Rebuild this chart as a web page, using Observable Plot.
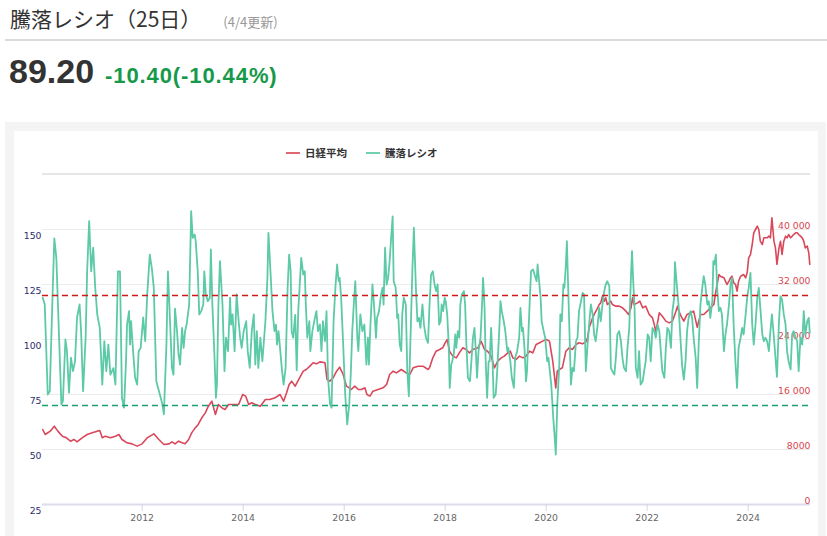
<!DOCTYPE html>
<html><head><meta charset="utf-8">
<script src="https://cdn.jsdelivr.net/npm/d3@7"></script>
<script src="https://cdn.jsdelivr.net/npm/@observablehq/plot@0.6"></script>
<style>
body{margin:0;width:827px;height:536px;overflow:hidden;background:#fff;font-family:"Noto Sans CJK JP","Noto Sans",sans-serif;position:relative}
#title{position:absolute;left:10px;top:3px;font-size:21px;color:#333;line-height:30px;white-space:nowrap}
#title small{font-size:13px;color:#999;margin-left:22px}
#hr{position:absolute;left:5px;top:39px;width:822px;height:2px;background:#dadada}
#price{position:absolute;left:9px;top:51px;font-family:"Liberation Sans",Arial,sans-serif;font-weight:bold;font-size:34px;color:#333;line-height:40px;white-space:nowrap}
#chg{font-size:22px;color:#17994a;letter-spacing:0.9px;margin-left:11px}
#card{position:absolute;left:5px;top:122px;width:821px;height:414px;background:#f4f4f4}
#panel{position:absolute;left:14px;top:131px;width:804px;height:405px;background:#fff}
#legend{position:absolute;left:286px;top:145px;display:flex;align-items:center;font-size:10.5px;font-weight:bold;color:#333;line-height:16px;white-space:nowrap}
#legend .sw{display:inline-block;width:14px;height:2px;margin-right:5px}
#sep{position:absolute;left:42px;top:173px;width:768px;height:1.5px;background:#e6e6e6}
#chart{position:absolute;left:14px;top:175px}
</style>
</head><body>
<div id="title">騰落レシオ（25日）<small>(4/4更新)</small></div>
<div id="hr"></div>
<div id="price">89.20<span id="chg">-10.40(-10.44%)</span></div>
<div id="card"></div>
<div id="panel"></div>
<div id="legend"><span class="sw" style="background:#e06672"></span><span>日経平均</span><span class="sw" style="background:#72d0b2;margin-left:19px"></span><span>騰落レシオ</span></div>
<div id="sep"></div>
<div id="chart"></div>
<script>
// 騰落レシオ(25日): [decimal year, ratio]
const ratioData = [
[2010.03,119],[2010.07,116],[2010.13,75],[2010.17,76.5],[2010.22,116],[2010.26,146],[2010.30,137],[2010.40,70.5],[2010.43,72],[2010.48,100],[2010.51,94.7],[2010.55,75.8],[2010.59,91.7],[2010.63,85.6],[2010.67,90],[2010.71,110],[2010.76,116],[2010.79,103.8],[2010.83,76.5],[2010.88,100.8],[2010.91,131],[2010.95,153.8],[2010.99,131],[2011.03,141.7],[2011.07,123.5],[2011.11,111.4],[2011.16,105.3],[2011.21,79.5],[2011.25,99.2],[2011.29,85.6],[2011.33,97.7],[2011.37,84],[2011.43,87],[2011.47,79.5],[2011.52,131],[2011.56,131],[2011.60,73.5],[2011.64,69],[2011.68,90],[2011.70,106.8],[2011.74,112.9],[2011.76,97.7],[2011.78,108.3],[2011.82,94.7],[2011.86,82.6],[2011.90,79.5],[2011.93,94.7],[2011.97,96.2],[2012.02,110],[2012.06,99.2],[2012.10,120.5],[2012.15,138.6],[2012.19,132.6],[2012.23,123.5],[2012.28,81],[2012.35,75],[2012.40,70.5],[2012.43,66],[2012.48,97.7],[2012.51,131],
[2012.59,87],[2012.62,84],[2012.65,114],[2012.69,103.8],[2012.72,93.2],[2012.75,88.6],[2012.79,105.3],[2012.82,96.2],[2012.85,103.8],[2012.88,106.8],[2012.93,115.9],[2012.97,158.3],[2013.00,146.2],[2013.04,147.7],[2013.06,144.7],[2013.10,131],[2013.13,111.4],[2013.17,112.9],[2013.21,115.9],[2013.23,131],[2013.26,120.5],[2013.30,117.4],[2013.34,119],[2013.36,140.9],[2013.39,115.9],[2013.43,93.2],[2013.46,73.5],[2013.48,79.5],[2013.51,115.9],[2013.54,135.6],[2013.59,115.9],[2013.63,85.6],[2013.66,100.8],[2013.70,94.7],[2013.74,119],[2013.76,106.8],[2013.79,111.4],[2013.83,94.7],[2013.87,120.5],[2013.91,108.3],[2013.94,100.8],[2013.97,96.2],[2014.01,103.8],[2014.06,108.3],[2014.09,94.7],[2014.13,87.1],[2014.17,103.8],[2014.21,111.4],[2014.24,88.6],[2014.27,103.8],[2014.30,87.1],[2014.34,100.8],[2014.38,90.1],[2014.44,108.3],[2014.48,128],[2014.50,148.5],[2014.54,131],[2014.58,112.9],[2014.62,103.8],[2014.65,106.8],[2014.67,97.7],[2014.70,103.8],[2014.77,85.6],[2014.80,79.5],[2014.84,87.1],[2014.88,123.5],[2014.91,138.6],[2014.94,131],[2014.96,103.8],[2014.99,100.8],[2015.03,111.2],
[2015.06,86],[2015.09,112.9],[2015.12,125],[2015.15,137.1],[2015.19,129.5],[2015.22,131],[2015.24,115.9],[2015.27,100.8],[2015.31,108.3],[2015.33,94.7],[2015.37,103.8],[2015.42,109.8],[2015.45,112.9],[2015.48,103.8],[2015.52,106.8],[2015.55,94.7],[2015.58,108.3],[2015.62,99.2],[2015.65,112.9],[2015.68,82.6],[2015.72,70.5],[2015.75,69],[2015.79,108.3],[2015.83,125],[2015.86,134.1],[2015.89,126.5],[2015.91,128],[2015.94,119],[2015.98,97.7],[2016.02,75],[2016.06,61.4],[2016.10,70.5],[2016.13,84.1],[2016.16,103.8],[2016.19,115.9],[2016.22,126.5],[2016.26,100.8],[2016.28,94.7],[2016.32,111.4],[2016.36,103.8],[2016.40,106.8],[2016.44,88.6],[2016.47,100.8],[2016.49,88.6],[2016.52,106.8],[2016.56,125],[2016.59,115.9],[2016.63,100.8],[2016.65,109.8],[2016.69,112.9],[2016.73,120.5],[2016.76,123.5],[2016.78,115.9],[2016.81,141.7],[2016.84,125],[2016.87,128],[2016.90,135.6],[2016.93,146.2],[2016.96,156],[2016.98,126.5],[2017.02,123.5],[2017.05,109.8],[2017.07,111.4],[2017.10,97.7],[2017.13,94.7],[2017.15,111.4],[2017.18,119],[2017.22,115.9],[2017.25,85.6],[2017.28,74.2],[2017.31,97.7],[2017.35,131],[2017.38,150.8],[2017.42,123.5],[2017.45,108.3],[2017.48,109.8],[2017.51,105.3],[2017.55,115.9],[2017.58,106.8],
[2017.62,100.8],[2017.66,98.5],[2017.69,115.9],[2017.72,129.5],[2017.755,131],[2017.79,125],[2017.82,122],[2017.85,125],[2017.88,106.8],[2017.91,108.3],[2017.93,115.9],[2017.96,112.9],[2017.99,119],[2018.01,117.4],[2018.04,111.4],[2018.07,97.7],[2018.09,78],[2018.12,88.6],[2018.14,90.1],[2018.17,93.2],[2018.20,102.3],[2018.22,96.2],[2018.25,103.8],[2018.28,100.8],[2018.30,115.9],[2018.33,120.5],[2018.37,122],[2018.395,115.9],[2018.42,97.7],[2018.45,82.6],[2018.49,81],[2018.51,87.1],[2018.55,100.8],[2018.58,105.3],[2018.61,93.2],[2018.63,82.6],[2018.66,94.7],[2018.70,100.8],[2018.73,115.9],[2018.75,128],[2018.78,114.4],[2018.80,91.7],[2018.83,73.5],[2018.86,90.1],[2018.88,90.1],[2018.91,105.3],[2018.94,88.6],[2018.96,73.5],[2019.00,75],[2019.03,85.6],[2019.07,103.8],[2019.095,117.4],[2019.12,112.9],[2019.16,108.3],[2019.19,103.8],[2019.23,94.7],[2019.25,96.2],[2019.29,90.1],[2019.32,82.6],[2019.36,78],[2019.385,91.7],[2019.425,94.7],[2019.465,100.8],[2019.49,114.4],[2019.52,103.8],[2019.54,105.3],[2019.57,96.2],[2019.60,81],[2019.62,85.6],[2019.65,103.8],[2019.68,120.5],[2019.70,131],[2019.74,131.8],[2019.78,128.8],[2019.81,126.5],[2019.83,134.1],[2019.86,126.5],[2019.89,119],[2019.91,108.3],[2019.95,103.8],[2019.98,100.8],[2020.02,90.1],[2020.045,91.7],[2020.10,79.5],[2020.14,64.4],[2020.16,58.3],[2020.19,47.7],
[2020.22,70.5],[2020.26,88.6],[2020.28,111.4],[2020.31,108.3],[2020.34,125],[2020.36,123.5],[2020.39,134.1],[2020.41,144.7],[2020.43,128],[2020.455,108.3],[2020.49,79.5],[2020.52,87.1],[2020.55,85.6],[2020.59,99.2],[2020.62,100.8],[2020.65,112.9],[2020.69,117.4],[2020.72,121.2],[2020.75,120.5],[2020.785,85.6],[2020.82,97.7],[2020.85,106.8],[2020.885,115.9],[2020.92,111.4],[2020.95,102.3],[2020.98,99.2],[2021.02,106.8],[2021.05,114.4],[2021.08,108.3],[2021.115,115.9],[2021.15,122],[2021.18,125],[2021.21,126.5],[2021.25,124.3],[2021.28,87.1],[2021.31,85.6],[2021.35,84.1],[2021.38,91.7],[2021.41,102.3],[2021.445,103.8],[2021.48,99.2],[2021.51,91.7],[2021.54,87.1],[2021.58,85.6],[2021.61,96.2],[2021.645,105.3],[2021.68,129.5],[2021.70,140.2],[2021.72,128],[2021.75,114.4],[2021.775,87.1],[2021.81,82.6],[2021.84,94.7],[2021.87,79.5],[2021.91,81],[2021.94,85.6],[2021.97,90.1],[2022.01,102.3],[2022.04,100.8],[2022.07,90.1],[2022.105,105.3],[2022.14,103.8],[2022.17,100.8],[2022.205,106.8],[2022.24,103.8],[2022.27,94.7],[2022.30,85.6],[2022.34,82.6],[2022.37,96.2],[2022.40,105.3],[2022.435,103.8],[2022.47,96.2],[2022.50,112.9],[2022.535,119],[2022.55,135.2],[2022.58,126.5],[2022.62,115.9],[2022.65,103.8],
[2022.69,88.6],[2022.725,81.8],[2022.76,90.1],[2022.79,103.8],[2022.82,109.8],[2022.86,112.9],[2022.89,109.8],[2022.92,100.8],[2022.96,91.7],[2022.99,78],[2023.02,97.7],[2023.055,115.9],[2023.09,123.5],[2023.12,128.8],[2023.15,125],[2023.19,115.9],[2023.22,117.4],[2023.25,109.8],[2023.29,117.4],[2023.31,135.6],[2023.33,134.1],[2023.36,138.6],[2023.385,123.5],[2023.42,112.9],[2023.45,114.4],[2023.48,111.4],[2023.52,94.7],[2023.55,102.3],[2023.58,106.8],[2023.62,115.9],[2023.65,125],[2023.68,128],[2023.715,105.3],[2023.75,88.6],[2023.78,78],[2023.81,96.2],[2023.85,100.8],[2023.88,105.3],[2023.91,102.3],[2023.95,111.4],[2023.98,119],[2024.01,123.5],[2024.045,130.3],[2024.08,106.8],[2024.11,97.7],[2024.145,106.8],[2024.18,119],[2024.21,123.5],[2024.24,114.4],[2024.28,102.3],[2024.31,99.2],[2024.34,100.8],[2024.375,99.2],[2024.41,94.7],[2024.44,103.8],[2024.47,111.4],[2024.51,100.8],[2024.54,91.7],[2024.57,83],[2024.61,108.3],[2024.64,119.7],[2024.67,118.2],[2024.705,111.4],[2024.74,106.8],[2024.77,94.7],[2024.80,90.1],[2024.84,86.4],[2024.87,102.3],[2024.90,103.8],[2024.94,100.8],[2024.97,99.2],[2025.00,85.6],[2025.035,100.8],[2025.07,97.7],[2025.10,112.9],[2025.13,102.3],[2025.17,108.3],[2025.20,109.8],[2025.22,103]
];
// 日経平均: [decimal year, yen]
const nikkeiData = [
[2010.03,10910],[2010.08,10180],[2010.18,10670],[2010.26,11390],[2010.33,10670],[2010.42,9940],[2010.50,9700],[2010.58,9210],[2010.65,9460],[2010.71,9120],[2010.81,9700],[2010.91,10180],[2011.01,10420],[2011.11,10670],[2011.16,10760],[2011.21,9700],[2011.27,9940],[2011.37,9700],[2011.47,9940],[2011.54,10180],[2011.60,9460],[2011.70,8970],[2011.80,8820],[2011.90,8490],[2012.00,8820],[2012.10,9700],[2012.23,10280],[2012.33,9460],[2012.43,8730],[2012.53,8820],
[2012.59,9120],[2012.65,8820],[2012.72,9210],[2012.79,8970],[2012.85,8820],[2012.92,9460],[2012.98,10420],[2013.05,11150],[2013.11,11640],[2013.18,12610],[2013.25,13330],[2013.31,14300],[2013.38,15030],[2013.45,13090],[2013.51,14550],[2013.58,14060],[2013.64,13820],[2013.71,14550],[2013.81,14550],[2013.91,14550],[2013.99,16000],[2014.05,15760],[2014.11,14550],[2014.17,14790],[2014.24,14550],[2014.34,14300],[2014.44,15270],[2014.53,15270],[2014.63,15520],[2014.73,16000],[2014.80,15030],[2014.86,16240],[2014.91,17450],[2014.96,17940],[2015.03,17210],
[2015.10,18200],[2015.19,19400],[2015.25,19640],[2015.32,20120],[2015.385,20610],[2015.45,20460],[2015.52,20750],[2015.62,20610],[2015.66,18180],[2015.715,17940],[2015.78,18420],[2015.85,19390],[2015.91,19980],[2015.98,18910],[2016.045,17210],[2016.10,16970],[2016.14,16730],[2016.21,17210],[2016.28,16730],[2016.34,16730],[2016.41,16970],[2016.45,16000],[2016.51,15760],[2016.57,16480],[2016.67,16730],[2016.77,16970],[2016.84,17450],[2016.90,18910],[2016.97,19390],[2017.035,19150],[2017.13,19640],[2017.23,19150],[2017.30,18910],[2017.365,19880],[2017.465,20120],[2017.56,20120],
[2017.66,19640],[2017.69,19880],[2017.755,21330],[2017.82,22300],[2017.89,22550],[2017.95,22790],[2018.00,23520],[2018.04,24000],[2018.085,22300],[2018.15,21580],[2018.22,21330],[2018.28,22060],[2018.35,22790],[2018.415,22550],[2018.48,22060],[2018.55,22550],[2018.65,22790],[2018.71,23760],[2018.78,22550],[2018.84,22300],[2018.91,21580],[2018.975,19880],[2019.04,20850],[2019.11,21330],[2019.17,21580],[2019.24,22060],[2019.29,22300],[2019.34,21330],[2019.405,21090],[2019.47,21580],[2019.54,21330],[2019.60,21580],[2019.67,22300],[2019.735,22060],[2019.80,23270],[2019.87,23520],[2019.93,23760],[2020.00,24000],[2020.065,23760],[2020.13,20850],[2020.19,16970],
[2020.22,19390],[2020.26,19640],[2020.32,19880],[2020.39,22300],[2020.455,22790],[2020.52,22550],[2020.59,23270],[2020.65,23520],[2020.72,23370],[2020.785,23660],[2020.82,24240],[2020.85,25700],[2020.885,26420],[2020.92,27150],[2020.95,27640],[2021.02,28610],[2021.05,29090],[2021.08,29330],[2021.115,30300],[2021.15,29580],[2021.18,30060],[2021.21,29090],[2021.25,29330],[2021.28,29580],[2021.31,29090],[2021.38,28850],[2021.445,28850],[2021.51,28610],[2021.58,28120],[2021.63,27640],[2021.68,28610],[2021.71,30060],[2021.74,29090],[2021.81,29330],[2021.855,29580],[2021.91,28610],[2021.97,28850],[2022.04,27640],[2022.105,27150],[2022.14,26180],[2022.17,25210],[2022.205,26420],[2022.24,27880],[2022.30,27390],[2022.37,26670],[2022.435,26420],[2022.50,26670],[2022.57,28120],[2022.60,28850],[2022.63,28120],
[2022.67,27390],[2022.725,26670],[2022.79,27640],[2022.86,27880],[2022.92,28120],[2022.99,25790],[2023.055,27640],[2023.12,27640],[2023.19,28120],[2023.25,28610],[2023.32,29090],[2023.35,30550],[2023.385,32000],[2023.42,33450],[2023.45,33210],[2023.52,32970],[2023.55,32480],[2023.58,32000],[2023.62,32480],[2023.65,32970],[2023.68,33210],[2023.715,32240],[2023.75,32000],[2023.78,31030],[2023.81,32480],[2023.85,33210],[2023.91,33450],[2023.95,32970],[2023.98,33700],[2024.01,35880],[2024.045,36360],[2024.08,37820],[2024.11,39520],[2024.145,40000],[2024.18,40480],[2024.21,40000],[2024.24,38300],[2024.28,37820],[2024.31,38790],[2024.34,38790],[2024.375,38790],[2024.41,39030],[2024.44,38790],[2024.47,41700],[2024.51,38300],[2024.54,37330],[2024.57,34910],[2024.61,37330],[2024.64,38300],[2024.67,36360],[2024.705,38300],[2024.74,39030],[2024.77,38790],[2024.80,39270],[2024.84,38790],[2024.87,39030],[2024.90,39270],[2024.94,39520],[2024.97,39520],[2025.00,39270],[2025.035,39030],[2025.07,38790],[2025.10,38300],[2025.13,37330],[2025.17,37580],[2025.20,36610],[2025.22,34910]
];
const leftTicks = [25, 50, 75, 100, 125, 150];
const rightTicks = [0, 8000, 16000, 24000, 32000, 40000];
const rightTickLabels = ["0", "8000", "16 000", "24 000", "32 000", "40 000"];
const xTicks = [2012, 2014, 2016, 2018, 2020, 2022, 2024];
const upperLine = [120];
const lowerLine = [70];
const yenPerPoint = 320;   // right axis: yen = (ratio - 25) * 320
const toLeft = n => n / yenPerPoint + 25;

const chart = Plot.plot({
  width: 804, height: 361,
  marginLeft: 28, marginRight: 8, marginTop: 21, marginBottom: 32,
  x: {type: "linear", domain: [2010.026, 2025.234]},
  y: {domain: [25, 165]},
  style: {fontFamily: "DejaVu Sans", fontSize: "9.3px", background: "transparent", overflow: "visible"},
  marks: [
    Plot.gridY(leftTicks, {stroke: "#ebebeb", strokeOpacity: 1}),
    Plot.ruleY([25], {stroke: "#dcdcec", strokeWidth: 2}),
    Plot.axisY(leftTicks, {tickSize: 0, tickPadding: 1, dy: 6.5, fill: "#2e2e6e", stroke: "none", label: null}),
    Plot.text(rightTicks, {y: n => toLeft(n), text: (d, i) => rightTickLabels[i], frameAnchor: "right", textAnchor: "end", dy: -3.5, fill: "#d9464f"}),
    Plot.axisX(xTicks, {tickSize: 7, tickPadding: 3, stroke: "#d6d6e6", fill: "#666", tickFormat: d => String(d), label: null}),
    Plot.line(nikkeiData, {x: d => d[0], y: d => toLeft(d[1]), stroke: "#d9485a", strokeWidth: 1.6}),
    Plot.line(ratioData, {x: d => d[0], y: d => d[1], stroke: "#5cc9a7", strokeWidth: 1.8}),
    Plot.ruleY(upperLine, {stroke: "#cf1a1a", strokeDasharray: "6,4", strokeWidth: 1.6}),
    Plot.ruleY(lowerLine, {stroke: "#1a9e72", strokeDasharray: "6,4", strokeWidth: 1.6})
  ]
});
document.getElementById("chart").appendChild(chart);
</script>
</body></html>
